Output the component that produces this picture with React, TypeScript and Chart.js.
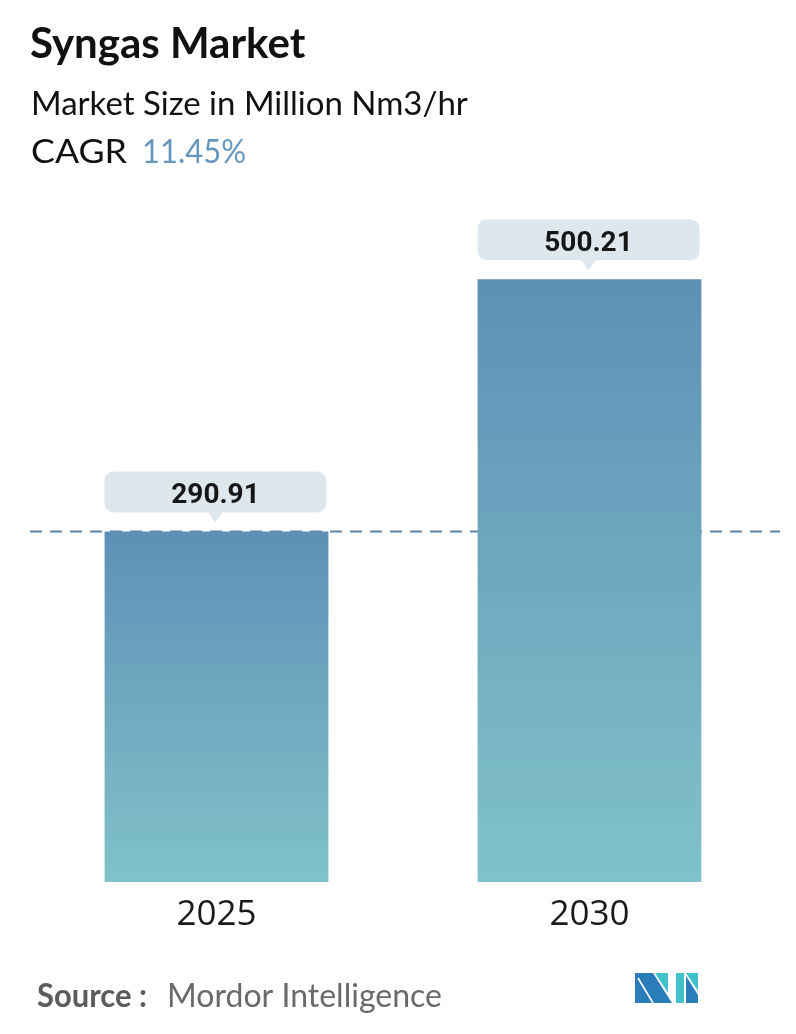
import React, { useEffect, useRef } from "react";
import { Chart, registerables } from "chart.js";

Chart.register(...registerables);

// ---- data ----
const years = ["2025", "2030"];
const marketSize = [290.91, 500.21];
const valueLabels = ["290.91", "500.21"];

const titleText = "Syngas Market";
const subtitleText = "Market Size in Million Nm3/hr";
const cagrLabel = "CAGR";
const cagrValue = "11.45%";
const sourceLabel = "Source :";
const sourceName = "Mordor Intelligence";

// ---- styling ----
const W = 796;
const H = 1034;
const BAR_TOP = "#5e90b6";
const BAR_BOTTOM = "#80c2c9";
const BOX_FILL = "#dee7eb";
const DASH_COLOR = "#5a84a9";
const ACCENT = "#6597bf";

// gradient per bar, running from the bar's top down to its base
const barGradient = (ctx: any) => {
  const chart = ctx.chart;
  const y = chart.scales && chart.scales.y;
  if (!chart.chartArea || !y || ctx.raw == null) return BAR_TOP;
  const top = y.getPixelForValue(ctx.raw);
  const base = y.getPixelForValue(0);
  const g = chart.ctx.createLinearGradient(0, top, 0, base);
  g.addColorStop(0, BAR_TOP);
  g.addColorStop(1, BAR_BOTTOM);
  return g;
};

// dashed reference line at the first year's value, behind the bars
const referenceLine = {
  id: "referenceLine",
  beforeDatasetsDraw(chart: any) {
    const { ctx, chartArea, scales } = chart;
    const y = scales.y.getPixelForValue(marketSize[0]);
    ctx.save();
    ctx.strokeStyle = DASH_COLOR;
    ctx.lineWidth = 2;
    ctx.setLineDash([12, 8]);
    ctx.beginPath();
    ctx.moveTo(chartArea.left, y);
    ctx.lineTo(chartArea.right + 4, y);
    ctx.stroke();
    ctx.restore();
  },
};

// value call-outs above each bar
const valueCallouts = {
  id: "valueCallouts",
  afterDatasetsDraw(chart: any) {
    const { ctx } = chart;
    const meta = chart.getDatasetMeta(0);
    meta.data.forEach((bar: any, i: number) => {
      const { x, y } = bar.getProps(["x", "y"], true);
      const w = 222;
      const h = 41;
      const bottom = y - 19;
      const top = bottom - h;
      ctx.save();
      ctx.fillStyle = BOX_FILL;
      ctx.beginPath();
      ctx.roundRect(x - w / 2 - 1, top, w, h, 9);
      ctx.fill();
      ctx.beginPath();
      ctx.moveTo(x - 8, bottom);
      ctx.lineTo(x - 1, bottom + 10);
      ctx.lineTo(x + 6, bottom);
      ctx.closePath();
      ctx.fill();
      ctx.fillStyle = "#161616";
      ctx.font = "700 28px Roboto";
      ctx.textAlign = "center";
      ctx.textBaseline = "alphabetic";
      ctx.fillText(valueLabels[i], x - 1, top + 32);
      ctx.restore();
    });
  },
};

// heading, CAGR line, source line and logo
const pageText = {
  id: "pageText",
  afterDraw(chart: any) {
    const { ctx } = chart;
    ctx.save();
    ctx.textAlign = "left";
    ctx.textBaseline = "alphabetic";

    // text squeezed or stretched horizontally to a set width
    const drawFitted = (text: string, x: number, y: number, width: number) => {
      const m = ctx.measureText(text).width;
      ctx.save();
      ctx.translate(x, y);
      ctx.scale(width / m, 1);
      ctx.fillText(text, 0, 0);
      ctx.restore();
    };

    ctx.fillStyle = "#111111";
    ctx.font = "700 42px Lato";
    ctx.fillText(titleText, 30, 58);

    ctx.font = "400 33px Lato";
    ctx.fillText(subtitleText, 31, 115);

    drawFitted(cagrLabel, 31, 163, 96);
    ctx.fillStyle = ACCENT;
    drawFitted(cagrValue, 142, 163, 104);

    ctx.fillStyle = "#5c5c5c";
    ctx.font = "700 32px Lato";
    drawFitted(sourceLabel, 37, 1007, 110);
    ctx.fillStyle = "#6a6a6a";
    ctx.font = "400 32px Lato";
    drawFitted(sourceName, 167, 1007, 275);

    // logo mark
    const ox = 635;
    const oy = 973;
    const poly = (pts: number[][], color: string) => {
      ctx.fillStyle = color;
      ctx.beginPath();
      pts.forEach(([px, py], k) => (k ? ctx.lineTo(ox + px, oy + py) : ctx.moveTo(ox + px, oy + py)));
      ctx.closePath();
      ctx.fill();
    };
    const dark = "#2b7db9";
    const teal = "#3fc2cb";
    poly([[0, 0], [18, 0], [37, 30], [0, 30]], dark);
    poly([[20, 0], [33, 0], [33, 20]], teal);
    poly([[41, 0], [49, 0], [49, 30], [41, 30]], teal);
    poly([[51, 0], [63, 0], [63, 18]], teal);
    poly([[51, 3], [63, 22], [63, 30], [51, 30]], dark);
    ctx.strokeStyle = "#ffffff";
    ctx.lineWidth = 1.5;
    ctx.beginPath();
    ctx.moveTo(ox + 3, oy + 5);
    ctx.lineTo(ox + 18, oy + 30);
    ctx.stroke();
    ctx.restore();
  },
};

export default function App() {
  const canvasRef = useRef<HTMLCanvasElement | null>(null);

  useEffect(() => {
    if (!canvasRef.current) return;
    const chart = new Chart(canvasRef.current, {
      type: "bar",
      data: {
        labels: years,
        datasets: [
          {
            data: marketSize,
            backgroundColor: barGradient,
            borderWidth: 0,
            barPercentage: 0.6,
            categoryPercentage: 1,
          },
        ],
      },
      options: {
        responsive: false,
        animation: false,
        devicePixelRatio: 1,
        layout: { padding: { left: 30, right: 20, top: 159, bottom: 85 } },
        plugins: {
          legend: { display: false },
          tooltip: { enabled: false },
          title: { display: false },
        },
        scales: {
          x: {
            grid: { display: false, drawTicks: false },
            border: { display: false },
            ticks: {
              color: "#1a1a1a",
              padding: 16,
              font: { family: "'Open Sans'", size: 35, lineHeight: 1 },
            },
          },
          y: { display: false, min: 0, max: 600 },
        },
      },
      plugins: [referenceLine, valueCallouts, pageText],
    });
    return () => chart.destroy();
  }, []);

  return (
    <div style={{ position: "absolute", left: 0, top: 0, width: W, height: H, background: "#ffffff" }}>
      <canvas ref={canvasRef} width={W} height={H} style={{ width: W, height: H, display: "block" }} />
    </div>
  );
}
